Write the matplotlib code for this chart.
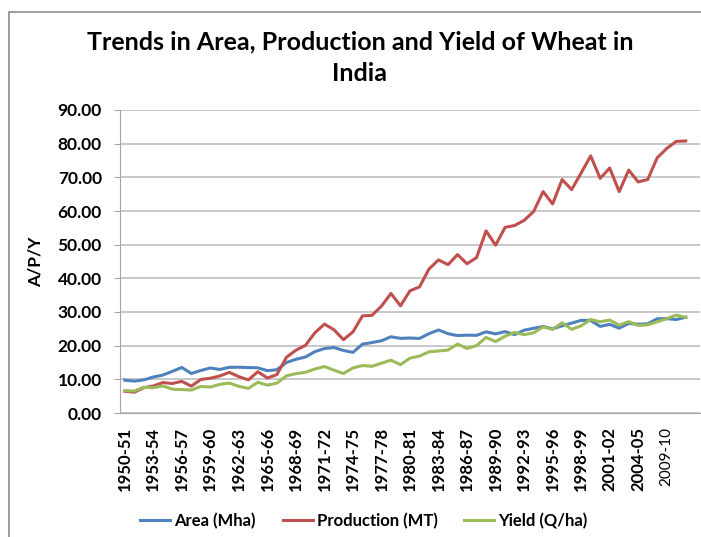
import matplotlib.pyplot as plt
from matplotlib.patches import Rectangle

# Lato is the closest installed match to the Calibri look of the original
plt.rcParams['font.family'] = ['Lato', 'DejaVu Sans']

# Wheat in India, 1950-51 .. 2009-10
years = [f"{y}-{str(y + 1)[-2:]}" for y in range(1950, 2010)]
area = [9.75, 9.47, 9.83, 10.68, 11.26, 12.37, 13.52, 11.73, 12.62, 13.38,
        12.93, 13.57, 13.59, 13.50, 13.42, 12.57, 12.84, 14.99, 15.96, 16.63,
        18.24, 19.14, 19.46, 18.58, 18.01, 20.45, 20.92, 21.46, 22.64, 22.17,
        22.28, 22.14, 23.57, 24.67, 23.56, 23.00, 23.13, 23.06, 24.11, 23.50,
        24.17, 23.26, 24.59, 25.15, 25.70, 25.01, 25.89, 26.70, 27.52, 27.49,
        25.73, 26.34, 25.20, 26.60, 26.38, 26.48, 27.99, 28.04, 27.75, 28.46]
production = [6.46, 6.18, 7.50, 8.02, 9.04, 8.76, 9.40, 7.99, 9.96, 10.32,
              11.00, 12.07, 10.78, 9.85, 12.26, 10.40, 11.39, 16.54, 18.65, 20.09,
              23.83, 26.41, 24.74, 21.78, 24.10, 28.84, 29.01, 31.75, 35.51, 31.83,
              36.31, 37.45, 42.79, 45.48, 44.07, 47.05, 44.32, 46.17, 54.11, 49.85,
              55.14, 55.69, 57.21, 59.84, 65.77, 62.10, 69.35, 66.35, 71.29, 76.37,
              69.68, 72.77, 65.76, 72.15, 68.64, 69.35, 75.81, 78.57, 80.68, 80.80]
yield_q = [6.63, 6.53, 7.63, 7.50, 8.03, 7.08, 6.95, 6.82, 7.89, 7.71,
           8.51, 8.90, 7.93, 7.30, 9.13, 8.27, 8.87, 11.03, 11.69, 12.08,
           13.07, 13.80, 12.71, 11.72, 13.38, 14.10, 13.87, 14.80, 15.68, 14.36,
           16.30, 16.91, 18.16, 18.43, 18.70, 20.46, 19.16, 20.02, 22.44, 21.21,
           22.81, 23.94, 23.27, 23.80, 25.59, 24.83, 26.79, 24.85, 25.90, 27.78,
           27.08, 27.62, 26.10, 27.13, 26.02, 26.19, 27.08, 28.02, 29.07, 28.39]

tick_pos = list(range(0, 58, 3))
tick_labels = [years[i] for i in tick_pos]
tick_labels[-1] = '2009-10'

fig = plt.figure(figsize=(7.01, 5.37), dpi=100)
ax = fig.add_axes([120 / 701, 124 / 537, 580 / 701, 303 / 537])

x = range(len(years))
ax.plot(x, area, color='#4F81BD', lw=2.2, label='Area (Mha)')
ax.plot(x, production, color='#C0504D', lw=2.2, label='Production (MT)')
ax.plot(x, yield_q, color='#9BBB59', lw=2.2, label='Yield (Q/ha)')

ax.set_xlim(-0.5, 60.5)
ax.set_ylim(0, 90)
ax.set_yticks(range(0, 91, 10))
ax.set_yticklabels([f"{v:.2f}" for v in range(0, 91, 10)], fontsize=12.5, fontweight='bold')
ax.set_xticks(tick_pos)
xt = ax.set_xticklabels(tick_labels, rotation=90, fontsize=12, fontweight='bold')
xt[-1].set_fontweight('normal')
xt[-1].set_fontsize(11)
ax.tick_params(axis='x', length=0, pad=10)
ax.tick_params(axis='y', length=4, color='#A6A6A6', pad=9)
ax.grid(axis='y', color='#BFBFBF', lw=1.2)
ax.set_axisbelow(True)
for s in ['top', 'right']:
    ax.spines[s].set_visible(False)
for s in ['left', 'bottom']:
    ax.spines[s].set_color('#A6A6A6')
ax.set_ylabel('A/P/Y', fontsize=12.5, fontweight='bold', labelpad=10)

fig.text(360 / 701, 1 - 58 / 537, 'Trends in Area, Production and Yield of Wheat in\nIndia',
         ha='center', va='center', fontsize=18, fontweight='bold', linespacing=1.45)

fig.legend(loc='center', bbox_to_anchor=(364 / 701, 1 - 521 / 537), ncol=3, frameon=False,
           prop={'size': 12, 'weight': 'bold'}, handlelength=1.8, columnspacing=1.6,
           handletextpad=0.25)

# chart border
fig.patches.append(Rectangle((9 / 701, -0.05), 1.0, 1 - 12 / 537 + 0.05, transform=fig.transFigure,
                             fill=False, edgecolor='#8C8C8C', lw=1.2, clip_on=False))

fig.savefig('out.png', dpi=100)
